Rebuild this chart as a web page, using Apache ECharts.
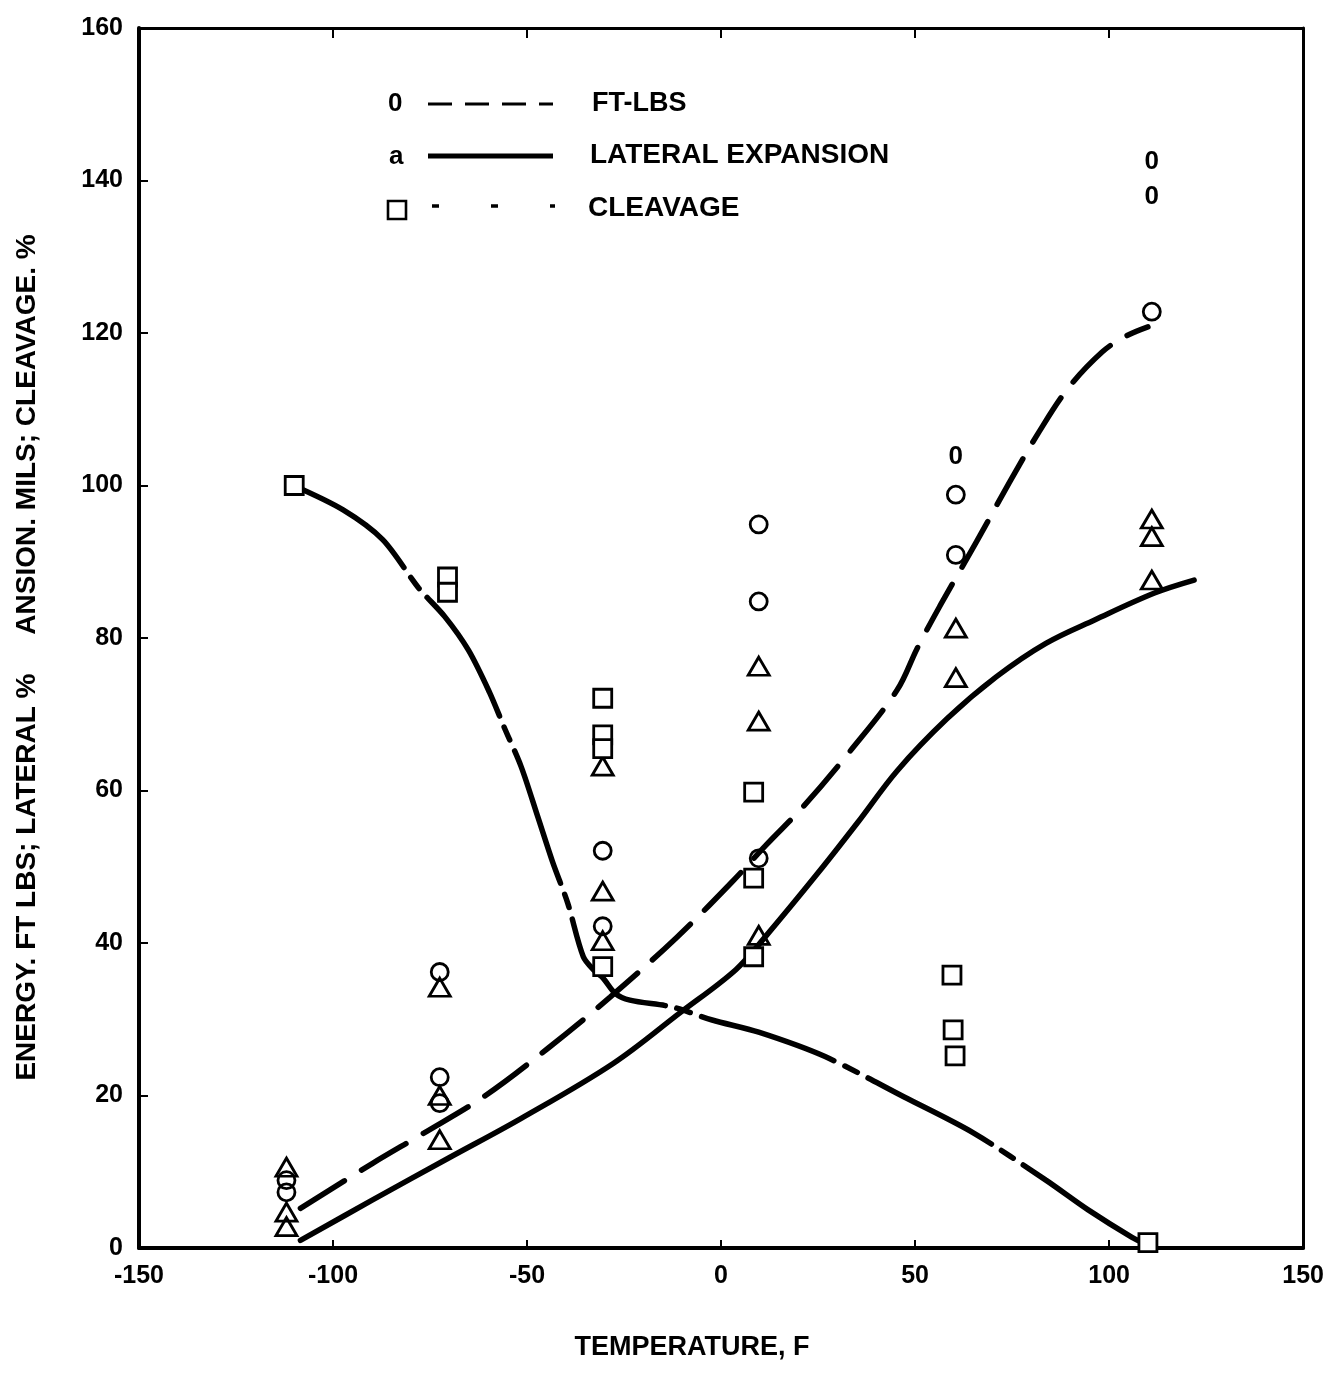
<!DOCTYPE html>
<html>
<head>
<meta charset="utf-8">
<script src="https://cdn.jsdelivr.net/npm/echarts@6/dist/echarts.min.js"></script>
<style>
html,body{margin:0;padding:0;background:#fff;}
#chart{width:1327px;height:1374px;}
</style>
</head>
<body>
<div id="chart"></div>
<script>
// ---------- data ----------
var xTicks = [-150, -100, -50, 0, 50, 100, 150];
var yTicks = [0, 20, 40, 60, 80, 100, 120, 140, 160];

// FT-LBS points (circles)
var circleT = [-112, -112, -72.5, -72.5, -72.5, -30.5, -30.5, 9.7, 9.7, 9.7, 60.5, 60.5, 111];
var circleV = [8.9, 7.3, 36.2, 22.4, 19.0, 52.1, 42.2, 94.9, 84.8, 51.1, 98.8, 90.9, 122.8];

// lateral expansion points (triangles)
var triT = [-112, -112, -112, -72.5, -72.5, -72.5, -30.5, -30.5, -30.5, 9.7, 9.7, 9.7, 60.5, 60.5, 111, 111, 111];
var triV = [10.6, 4.7, 2.8, 34.2, 20.0, 14.2, 63.2, 46.8, 40.3, 76.3, 69.1, 41.0, 81.3, 74.8, 95.6, 93.3, 87.6];

// cleavage points (squares)
var sqT = [-110, -70.5, -70.5, -30.5, -30.5, -30.5, -30.5, 8.4, 8.4, 8.4, 59.5, 59.8, 60.3, 110];
var sqV = [100, 88.0, 86.0, 72.1, 67.3, 65.5, 36.9, 59.8, 48.5, 38.2, 35.8, 28.6, 25.2, 0.7];

// stray "0" marks printed on the plot
var zeroT = [60.5, 111, 111];
var zeroV = [103.8, 142.5, 137.9];

// fitted curves
var ftCurveT = [-108.4, -89.8, -76.5, -61, -44.6, -28.6, -11.5, 2.8, 11.7, 21.2, 33, 45.4, 50.5, 56.4, 65.8, 74.2, 81.9, 89.5, 98.2, 104, 110];
var ftCurveV = [5.2, 11.1, 15.1, 19.9, 26.2, 32.9, 40.7, 48.0, 52.9, 57.9, 65.0, 73.2, 78.6, 84.2, 92.6, 100.3, 107.0, 112.8, 117.5, 119.5, 120.8];

var latCurveT = [-108.4, -89.8, -70.2, -51.5, -27.8, -10.7, 3.8, 11.7, 25, 35.2, 45.4, 58.2, 70.9, 83.7, 96.4, 111.7, 121.9];
var latCurveV = [1.0, 6.3, 11.8, 17.0, 24.2, 30.8, 36.5, 41.0, 49.2, 55.8, 62.6, 69.4, 74.9, 79.3, 82.4, 85.9, 87.6];

var clvCurveT = [-110.2, -97.4, -87.2, -78, -71.2, -65.1, -59.7, -55.9, -51.5, -47.2, -43.4, -39.5, -35.5, -32.5, -30.4, -27.3, -23.5, -12.5, -2.3, 9.7, 26.8, 47.2, 65, 83.7, 94.6, 105.9, 109.5];
var clvCurveV = [100, 96.8, 92.9, 86.6, 82.8, 78.4, 72.9, 68.3, 63.1, 56.5, 50.6, 45.2, 38.2, 36.3, 35.4, 33.4, 32.5, 31.6, 29.9, 28.3, 25.1, 19.8, 15.1, 8.9, 5.0, 1.4, 0.5];

function zip(a, b) { return a.map(function (v, i) { return [v, b[i]]; }); }

var FONT = 'Liberation Sans, Arial, sans-serif';
var chart = echarts.init(document.getElementById('chart'), null, {renderer: 'canvas'});

var option = {
  backgroundColor: '#fff',
  animation: false,
  grid: {left: 139, right: 9, top: 28, bottom: 126, containLabel: false},
  xAxis: [{
    type: 'value', min: -150, max: 150, interval: 50, position: 'bottom',
    name: 'TEMPERATURE, F', nameLocation: 'middle', nameGap: 86,
    nameTextStyle: {fontFamily: FONT, fontWeight: 'bold', fontSize: 27, color: '#000', padding: [0, 58, 0, 0]},
    axisLine: {show: true, onZero: false, lineStyle: {color: '#000', width: 4}},
    axisTick: {show: true, inside: true, length: 8, lineStyle: {color: '#000', width: 2}},
    axisLabel: {fontFamily: FONT, fontWeight: 'bold', fontSize: 25, color: '#000', margin: 16,
      formatter: function (v) { return xTicks.indexOf(v) >= 0 ? String(v) : ''; }},
    splitLine: {show: false}
  }, {
    type: 'value', min: -150, max: 150, interval: 50, position: 'top',
    axisLine: {show: true, onZero: false, lineStyle: {color: '#000', width: 3}},
    axisTick: {show: true, inside: true, length: 10, lineStyle: {color: '#000', width: 2}},
    axisLabel: {show: false}, splitLine: {show: false}
  }],
  yAxis: [{
    type: 'value', min: 0, max: 160, interval: 20, position: 'left',
    name: 'ENERGY. FT LBS; LATERAL %     ANSION. MILS; CLEAVAGE. %     ',
    nameLocation: 'middle', nameGap: 98, nameRotate: 90,
    nameTextStyle: {fontFamily: FONT, fontWeight: 'bold', fontSize: 28, color: '#000'},
    axisLine: {show: true, onZero: false, lineStyle: {color: '#000', width: 4}},
    axisTick: {show: true, inside: true, length: 9, lineStyle: {color: '#000', width: 2}},
    axisLabel: {fontFamily: FONT, fontWeight: 'bold', fontSize: 25, color: '#000', margin: 16,
      formatter: function (v) { return yTicks.indexOf(v) >= 0 ? String(v) : ''; }},
    splitLine: {show: false}
  }, {
    type: 'value', min: 0, max: 160, interval: 20, position: 'right',
    axisLine: {show: true, onZero: false, lineStyle: {color: '#000', width: 3}},
    axisTick: {show: false}, axisLabel: {show: false}, splitLine: {show: false}
  }],
  series: [
    {
      name: 'FT-LBS', type: 'line', data: zip(ftCurveT, ftCurveV), smooth: 0.35,
      showSymbol: false, symbol: 'none', z: 2,
      lineStyle: {color: '#000', width: 5.5, type: [52, 20], cap: 'round'}
    },
    {
      name: 'LATERAL EXPANSION', type: 'line', data: zip(latCurveT, latCurveV), smooth: 0.35,
      showSymbol: false, symbol: 'none', z: 2,
      lineStyle: {color: '#000', width: 5.5, type: 'solid', cap: 'round'}
    },
    {
      name: 'CLEAVAGE', type: 'line', data: zip(clvCurveT, clvCurveV), smooth: 0.3,
      showSymbol: false, symbol: 'none', z: 2,
      lineStyle: {color: '#000', width: 5.5, type: [140, 12, 14, 12], cap: 'round'}
    },
    {
      name: 'FT-LBS pts', type: 'scatter', data: zip(circleT, circleV), z: 4,
      symbol: 'circle', symbolSize: 17,
      itemStyle: {color: 'rgba(0,0,0,0)', borderColor: '#000', borderWidth: 2.8, opacity: 1}
    },
    {
      name: 'LATERAL pts', type: 'scatter', data: zip(triT, triV), z: 4,
      symbol: 'triangle', symbolSize: [21, 18],
      itemStyle: {color: 'rgba(0,0,0,0)', borderColor: '#000', borderWidth: 2.8, opacity: 1}
    },
    {
      name: 'CLEAVAGE pts', type: 'scatter', data: zip(sqT, sqV), z: 5,
      symbol: 'rect', symbolSize: 18,
      itemStyle: {color: '#fff', borderColor: '#000', borderWidth: 2.8, opacity: 1}
    },
    {
      name: 'zero marks', type: 'scatter', data: zip(zeroT, zeroV), z: 4,
      symbol: 'circle', symbolSize: 1,
      itemStyle: {color: 'rgba(0,0,0,0)', opacity: 1},
      label: {show: true, position: 'inside', formatter: '0', textBorderWidth: 0,
        fontFamily: FONT, fontWeight: 'bold', fontSize: 26, color: '#000'}
    }
  ],
  graphic: [
    {type: 'text', left: 388, top: 91, style: {text: '0', font: 'bold 26px ' + FONT, fill: '#000'}},
    {type: 'line', shape: {x1: 428, y1: 104, x2: 553, y2: 104},
      style: {stroke: '#000', lineWidth: 3, lineDash: [24, 13]}},
    {type: 'text', left: 592, top: 90, style: {text: 'FT-LBS', font: 'bold 27px ' + FONT, fill: '#000'}},

    {type: 'text', left: 389, top: 144, style: {text: 'a', font: 'bold 26px ' + FONT, fill: '#000'}},
    {type: 'line', shape: {x1: 428, y1: 156, x2: 553, y2: 156},
      style: {stroke: '#000', lineWidth: 5}},
    {type: 'text', left: 590, top: 141, style: {text: 'LATERAL EXPANSION', font: 'bold 28px ' + FONT, fill: '#000'}},

    {type: 'rect', shape: {x: 388, y: 201, width: 18, height: 18},
      style: {fill: '#fff', stroke: '#000', lineWidth: 2.6}},
    {type: 'line', shape: {x1: 432, y1: 206, x2: 555, y2: 206},
      style: {stroke: '#000', lineWidth: 3.5, lineDash: [7, 52]}},
    {type: 'text', left: 588, top: 194, style: {text: 'CLEAVAGE', font: 'bold 28px ' + FONT, fill: '#000'}}
  ]
};
chart.setOption(option);
</script>
</body>
</html>
